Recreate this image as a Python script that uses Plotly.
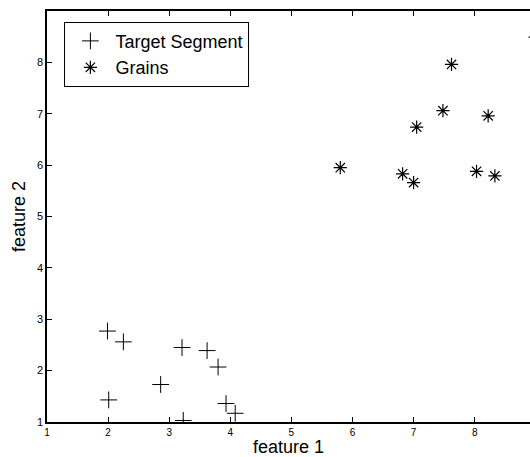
import plotly.graph_objects as go

# Data
target_x = [1.99, 2.25, 3.21, 3.62, 3.80, 2.86, 2.01, 3.93, 4.08, 3.23]
target_y = [2.77, 2.56, 2.45, 2.39, 2.07, 1.73, 1.43, 1.36, 1.17, 1.03]

grains_x = [7.62, 7.48, 8.22, 7.05, 5.80, 6.82, 7.00, 8.03, 8.33, 8.99]
grains_y = [7.96, 7.06, 6.96, 6.74, 5.95, 5.83, 5.66, 5.88, 5.79, 8.49]

x_ticks = [1, 2, 3, 4, 5, 6, 7, 8]
y_ticks = [1, 2, 3, 4, 5, 6, 7, 8]

FONT = "Liberation Sans, Arial, Helvetica, sans-serif"

fig = go.Figure()
fig.add_trace(go.Scatter(
    x=target_x, y=target_y, mode="markers", name="Target Segment",
    marker=dict(symbol="cross-thin-open", size=12, color="black",
                line=dict(color="black", width=1)),
))
fig.add_trace(go.Scatter(
    x=grains_x, y=grains_y, mode="markers", name="Grains",
    marker=dict(symbol="asterisk-open", size=11, color="black",
                line=dict(color="black", width=1.2)),
))

fig.update_layout(
    width=530, height=457,
    margin=dict(l=47, r=0, t=11, b=35, pad=0, autoexpand=False),
    paper_bgcolor="white", plot_bgcolor="white",
    font=dict(family=FONT, color="black"),
    showlegend=True,
    legend=dict(
        x=0.036, y=0.974, xanchor="left", yanchor="top",
        bordercolor="black", borderwidth=1, bgcolor="white",
        font=dict(size=18, family=FONT, color="black"),
        itemwidth=40, tracegroupgap=0,
    ),
    xaxis=dict(
        range=[1, 8.905], tickvals=x_ticks, ticktext=[str(v) for v in x_ticks],
        ticks="inside", ticklen=5, tickwidth=1, tickcolor="black",
        showline=True, linecolor="black", linewidth=1.5, mirror="ticks",
        showgrid=False, zeroline=False, automargin=False,
        tickfont=dict(size=10, family=FONT),
        title=dict(text="feature 1", font=dict(size=18, family=FONT)),
    ),
    yaxis=dict(
        range=[1, 9], tickvals=y_ticks, ticktext=[str(v) for v in y_ticks],
        ticks="inside", ticklen=5, tickwidth=1, tickcolor="black",
        showline=True, linecolor="black", linewidth=1.5, mirror=False,
        showgrid=False, zeroline=False, automargin=False,
        tickfont=dict(size=11, family=FONT),
        title=dict(text="feature 2", font=dict(size=18, family=FONT), standoff=7),
    ),
)

fig.write_html("out.html")
